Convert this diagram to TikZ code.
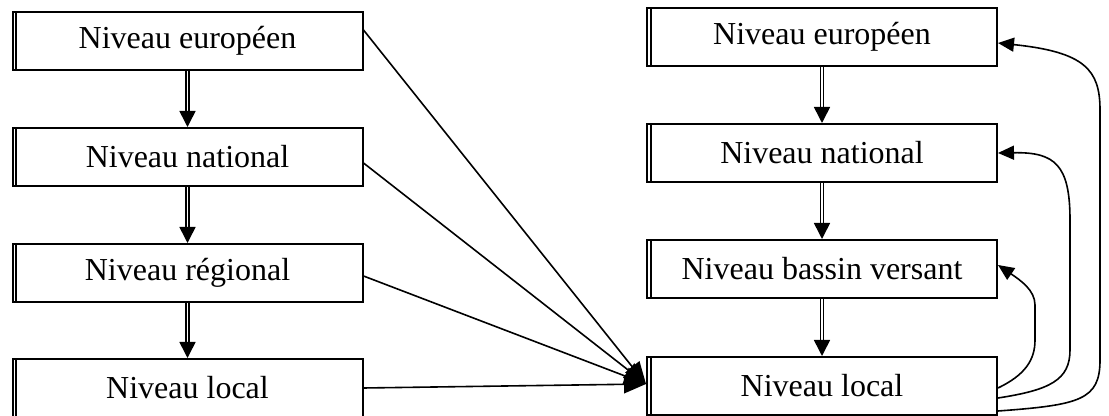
\documentclass[tikz,border=0pt]{standalone}
\usepackage{fontspec}
\setmainfont{Liberation Serif}
\usepackage{tikz}
\usetikzlibrary{arrows.meta, calc}

\tikzset{
  niveau/.style={draw, line width=1pt, minimum width=175pt, minimum height=29pt, inner sep=0pt,
    font=\fontsize{16}{19}\selectfont,
    path picture={\draw[line width=1.1pt] ([xshift=1.8pt]path picture bounding box.north west) -- ([xshift=1.8pt]path picture bounding box.south west);}},
  descend/.style={double, double distance=0.8pt, line width=0.8pt, -{Triangle[length=8pt,width=8pt]}},
  vers/.style={line width=0.8pt, -{Triangle[length=11pt,width=9pt]}},
  retour/.style={line width=0.8pt, -{Triangle[length=8pt,width=7pt]}}
}

\begin{document}
\begin{tikzpicture}[x=0.5pt, y=-0.5pt]
    \useasboundingbox (0,0) rectangle (1109,416);

    % Left column
    \node[niveau] (eu1)  at (187.5,41)  {Niveau européen};
    \node[niveau] (nat1) at (187.5,157) {Niveau national};
    \node[niveau] (reg1) at (187.5,273) {Niveau régional};
    \node[niveau] (loc1) at (187.5,388) {Niveau local};

    % Right column
    \node[niveau] (eu2)  at (822,37)  {Niveau européen};
    \node[niveau] (nat2) at (822,153) {Niveau national};
    \node[niveau] (bv2)  at (822,269) {Niveau bassin versant};
    \node[niveau] (loc2) at (822,386) {Niveau local};

    % Vertical links
    \draw[descend] (eu1) -- (nat1);
    \draw[descend] (nat1) -- (reg1);
    \draw[descend] (reg1) -- (loc1);
    \draw[descend] (eu2) -- (nat2);
    \draw[descend] (nat2) -- (bv2);
    \draw[descend] (bv2) -- (loc2);

    % Converging links
    \coordinate (cible) at ($(loc2.west)+(0,-2)$);
    \draw[vers] ([yshift=5.5pt]eu1.east) -- (cible);
    \draw[vers] ([yshift=-3pt]nat1.east) -- (cible);
    \draw[vers] ([yshift=-1.5pt]reg1.east) -- (cible);
    \draw[vers] (loc1.east) -- (cible);

    % Return curves
    \draw[retour] ([yshift=-1pt]loc2.east) .. controls (1025,375) and (1035,360) .. (1035,340) -- (1035,305) .. controls (1035,290) and (1020,280) .. ([yshift=2pt]bv2.east);
    \draw[retour] ([yshift=-6pt]loc2.east) .. controls (1050,390) and (1070,380) .. (1070,350) -- (1070,220) .. controls (1070,165) and (1055,152) .. (bv2.east |- nat2.east);
    \draw[retour] ([yshift=-12.5pt]loc2.east) .. controls (1080,405) and (1100,400) .. (1100,360) -- (1100,110) .. controls (1100,70) and (1085,52) .. ([yshift=-3pt]eu2.east);

\end{tikzpicture}
\end{document}
